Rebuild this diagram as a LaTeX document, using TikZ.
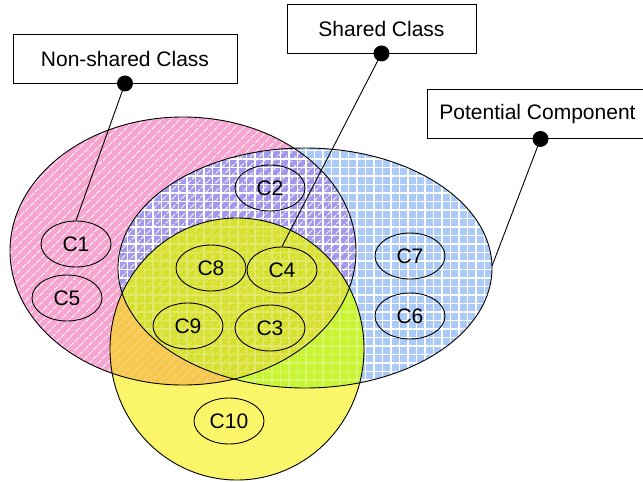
\documentclass[tikz,border=0pt]{standalone}
\usepackage{fontspec}
\setmainfont{Liberation Sans}
\usetikzlibrary{positioning, patterns.meta, shapes.geometric}

\definecolor{pinkc}{RGB}{245,165,207}
\definecolor{bluec}{RGB}{172,202,247}
\definecolor{purplec}{RGB}{162,152,236}
\definecolor{yellowc}{RGB}{250,245,105}
\definecolor{limec}{RGB}{200,245,50}
\definecolor{orangec}{RGB}{246,200,80}
\definecolor{olivec}{RGB}{215,225,45}

\begin{document}
\begin{tikzpicture}[
    x=1pt, y=-1pt,
    comp/.style={draw, ellipse, line width=0.9pt, minimum width=70pt, minimum height=46pt, inner sep=0pt, font=\fontsize{21}{25}\selectfont},
    tag/.style={draw, line width=0.9pt, fill=white, rectangle, minimum height=49pt, inner sep=0pt, font=\fontsize{21}{25}\selectfont},
    pin/.style={circle, fill=black, minimum size=16pt, inner sep=0pt},
    lead/.style={line width=0.9pt}
]
    \useasboundingbox (0,0) rectangle (643,482);

    \def\pinkset{(183,251) ellipse [x radius=173, y radius=134]}
    \def\blueset{(305,268) ellipse [x radius=187, y radius=120]}
    \def\yellowset{(237,349) ellipse [x radius=127, y radius=131]}

    % Non-shared and potential sets
    \fill[pinkc] \pinkset;
    \fill[bluec] \blueset;
    \begin{scope}
        \clip \pinkset;
        \fill[purplec] \blueset;
    \end{scope}

    % Shared set
    \fill[yellowc] \yellowset;
    \begin{scope}
        \clip \blueset;
        \clip \yellowset;
        \fill[limec, even odd rule] \yellowset \pinkset;
    \end{scope}
    \begin{scope}
        \clip \pinkset;
        \clip \yellowset;
        \fill[orangec, even odd rule] \yellowset \blueset;
    \end{scope}
    \begin{scope}
        \clip \pinkset;
        \clip \blueset;
        \fill[olivec] \yellowset;
    \end{scope}

    % Hatching
    \fill[pattern={Lines[angle=45, distance=6.5pt, line width=1.4pt]}, pattern color=white, fill opacity=0.75] \pinkset;
    \fill[pattern={Hatch[angle=0, distance=8.5pt, line width=1.3pt]}, pattern color=white, fill opacity=0.9] \blueset;

    % Hatching shows only faintly under the shared set
    \begin{scope}[fill opacity=0.7]
        \begin{scope}
            \clip \blueset;
            \clip \yellowset;
            \fill[limec, even odd rule] \yellowset \pinkset;
        \end{scope}
        \begin{scope}
            \clip \pinkset;
            \clip \yellowset;
            \fill[orangec, even odd rule] \yellowset \blueset;
        \end{scope}
        \begin{scope}
            \clip \pinkset;
            \clip \blueset;
            \fill[olivec] \yellowset;
        \end{scope}
    \end{scope}

    % Outlines
    \draw[line width=0.9pt] \pinkset;
    \draw[line width=0.9pt] \blueset;
    \draw[line width=0.9pt] \yellowset;

    % Components
    \node[comp] (c1) at (76,244) {C1};
    \node[comp] (c5) at (67,298) {C5};
    \node[comp] (c2) at (270,188) {C2};
    \node[comp] (c8) at (211,268) {C8};
    \node[comp] (c4) at (282,270) {C4};
    \node[comp] (c9) at (188,326) {C9};
    \node[comp] (c3) at (270,328) {C3};
    \node[comp] (c7) at (410,256) {C7};
    \node[comp] (c6) at (410,316) {C6};
    \node[comp] (c10) at (229,421) {C10};

    % Labels
    \node[tag, minimum width=224pt] (nonshared) at (125,58.5) {Non-shared Class};
    \node[tag, minimum width=189pt] (shared) at (381.5,28.5) {Shared Class};
    \node[tag, minimum width=221pt] (potential) at (537.5,114) {Potential Component};

    \coordinate (blueedge) at (492,266);

    \node[pin] (pn) at (nonshared.south) {};
    \node[pin] (ps) at (shared.south) {};
    \node[pin, xshift=3pt] (pp) at (potential.south) {};

    \draw[lead] (pn.center) -- (c1.north);
    \draw[lead] (ps.center) -- (c4.north);
    \draw[lead] (pp.center) -- (blueedge);

\end{tikzpicture}
\end{document}
